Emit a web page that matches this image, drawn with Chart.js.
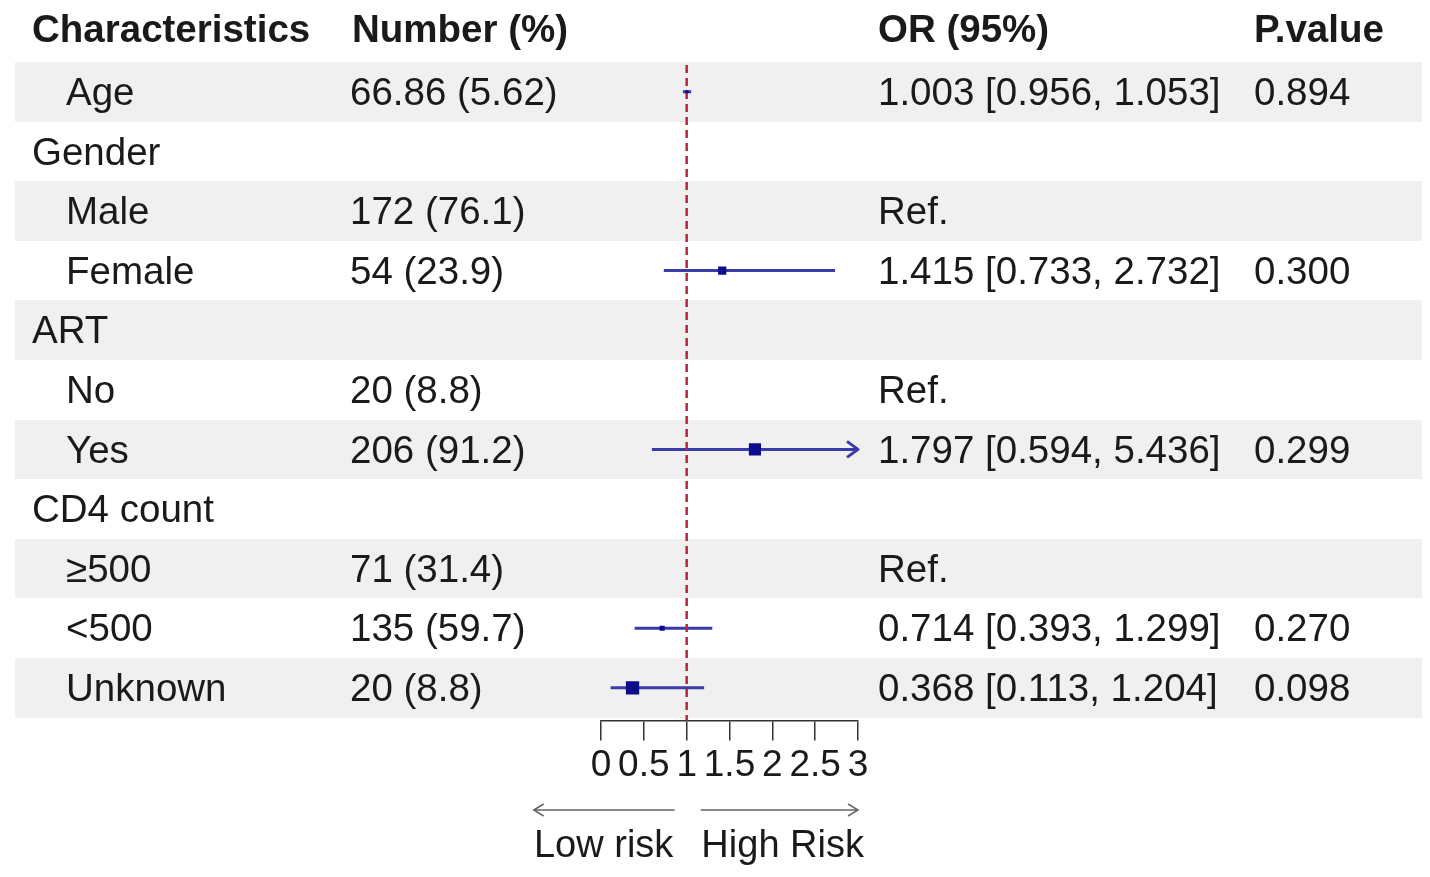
<!DOCTYPE html>
<html>
<head>
<meta charset="utf-8">
<script src="https://cdn.jsdelivr.net/npm/chart.js@4/dist/chart.umd.min.js"></script>
<style>
  html, body { margin: 0; padding: 0; background: #ffffff; }
  #wrap { width: 1430px; height: 877px; }
</style>
</head>
<body>
<div id="wrap"><canvas id="c" width="1430" height="877"></canvas></div>
<script>
// ---- data ----
const headers = ["Characteristics", "Number (%)", "OR (95%)", "P.value"];
const rowLabels = ["Age", "Gender", "Male", "Female", "ART", "No", "Yes", "CD4 count", "\u2265500", "<500", "Unknown"];
const rowIsGroup = [false, true, false, false, true, false, false, true, false, false, false];
const numbers = ["66.86 (5.62)", "", "172 (76.1)", "54 (23.9)", "", "20 (8.8)", "206 (91.2)", "", "71 (31.4)", "135 (59.7)", "20 (8.8)"];
const orEst = [1.003, null, null, 1.415, null, null, 1.797, null, null, 0.714, 0.368];
const orLow = [0.956, null, null, 0.733, null, null, 0.594, null, null, 0.393, 0.113];
const orHigh = [1.053, null, null, 2.732, null, null, 5.436, null, null, 1.299, 1.204];
const orText = ["1.003 [0.956, 1.053]", "", "Ref.", "1.415 [0.733, 2.732]", "", "Ref.", "1.797 [0.594, 5.436]", "", "Ref.", "0.714 [0.393, 1.299]", "0.368 [0.113, 1.204]"];
const pValues = ["0.894", "", "", "0.300", "", "", "0.299", "", "", "0.270", "0.098"];
const xTicks = [0, 0.5, 1, 1.5, 2, 2.5, 3];
const refValue = 1;
const arrowLabels = ["Low risk", "High Risk"];

// ---- styles ----
const FONT = "'Liberation Sans', Arial, Helvetica, sans-serif";
const TEXT = "#1a1a1a";
const BAND = "#f0f0f0";
const CI_COL = "#3a3aa8";
const PT_COL = "#0c0c8c";
const REF_COL = "#b5263a";
const markerRadius = [2.2, 0, 0, 5.8, 0, 0, 8.6, 0, 0, 3.6, 9.4];
const xMin = xTicks[0], xMax = xTicks[xTicks.length - 1];

const datasets = [];
// confidence intervals
rowLabels.forEach((lab, i) => {
  if (orEst[i] === null) return;
  datasets.push({
    type: 'scatter',
    label: 'ci-' + lab,
    data: [{x: Math.max(orLow[i], xMin), y: i}, {x: Math.min(orHigh[i], xMax), y: i}],
    showLine: true,
    borderColor: CI_COL,
    borderWidth: 3,
    pointRadius: 0,
    order: 2
  });
});
// reference line
datasets.push({
  type: 'scatter',
  label: 'ref',
  data: [{x: refValue, y: -0.45}, {x: refValue, y: 10.6}],
  showLine: true,
  borderColor: REF_COL,
  borderWidth: 2.5,
  borderDash: [8, 5],
  pointRadius: 0,
  order: 1
});
// point estimates
const ptData = [], ptRad = [];
rowLabels.forEach((lab, i) => {
  if (orEst[i] === null) return;
  ptData.push({x: orEst[i], y: i});
  ptRad.push(markerRadius[i]);
});
datasets.push({
  type: 'scatter',
  label: 'est',
  data: ptData,
  pointStyle: 'rect',
  pointRadius: ptRad,
  pointBackgroundColor: PT_COL,
  pointBorderWidth: 0,
  pointBorderColor: PT_COL,
  order: 0
});

const tablePlugin = {
  id: 'tablePlugin',
  beforeDraw(chart) {
    const {ctx, scales: {y}} = chart;
    ctx.save();
    ctx.fillStyle = '#ffffff';
    ctx.fillRect(0, 0, chart.width, chart.height);
    ctx.fillStyle = BAND;
    rowLabels.forEach((_, i) => {
      if (i % 2 === 0) {
        const t = y.getPixelForValue(i - 0.5);
        const b = y.getPixelForValue(i + 0.5);
        ctx.fillRect(15, Math.round(t), 1407, Math.round(b) - Math.round(t));
      }
    });
    ctx.restore();
  },
  afterDatasetsDraw(chart) {
    const {ctx, scales: {x, y}} = chart;
    ctx.save();
    // arrows for clipped CIs
    ctx.strokeStyle = CI_COL;
    ctx.lineWidth = 3;
    ctx.lineJoin = 'round';
    rowLabels.forEach((_, i) => {
      if (orHigh[i] !== null && orHigh[i] > xMax) {
        const px = x.getPixelForValue(xMax), py = y.getPixelForValue(i);
        ctx.beginPath();
        ctx.moveTo(px - 11, py - 8);
        ctx.lineTo(px, py);
        ctx.lineTo(px - 11, py + 8);
        ctx.stroke();
      }
    });
    ctx.restore();
  },
  afterDraw(chart) {
    const {ctx, scales: {x, y}} = chart;
    ctx.save();
    ctx.fillStyle = TEXT;
    ctx.textBaseline = 'middle';
    ctx.textAlign = 'left';
    const colX = [32, 352, 878, 1254];
    ctx.font = "bold 38.5px " + FONT;
    headers.forEach((h, k) => ctx.fillText(h, colX[k], 31));
    ctx.font = "38.5px " + FONT;
    rowLabels.forEach((lab, i) => {
      const py = y.getPixelForValue(i) + 2.5;
      ctx.fillText(lab, rowIsGroup[i] ? 32 : 66, py);
      if (numbers[i]) ctx.fillText(numbers[i], 350, py);
      if (orText[i]) ctx.fillText(orText[i], 878, py);
      if (pValues[i]) ctx.fillText(pValues[i], 1254, py);
    });
    // risk arrows
    const rx = x.getPixelForValue(refValue);
    const xr = x.getPixelForValue(xMax);
    const ay = 810;
    ctx.strokeStyle = '#666666';
    ctx.lineWidth = 1.5;
    ctx.beginPath();
    ctx.moveTo(rx - 12, ay); ctx.lineTo(rx - 153, ay);
    ctx.moveTo(rx - 143, ay - 6); ctx.lineTo(rx - 153, ay); ctx.lineTo(rx - 143, ay + 6);
    ctx.moveTo(rx + 14, ay); ctx.lineTo(xr, ay);
    ctx.moveTo(xr - 10, ay - 6); ctx.lineTo(xr, ay); ctx.lineTo(xr - 10, ay + 6);
    ctx.stroke();
    ctx.fillStyle = TEXT;
    ctx.textAlign = 'center';
    ctx.font = "38px " + FONT;
    ctx.fillText(arrowLabels[0], rx - 83, 847);
    ctx.fillText(arrowLabels[1], rx + 96, 847);
    ctx.restore();
  }
};

new Chart(document.getElementById('c'), {
  type: 'scatter',
  data: { datasets },
  options: {
    responsive: false,
    animation: false,
    events: [],
    layout: { padding: { left: 601, right: 572, top: 62, bottom: 86 } },
    plugins: { legend: { display: false }, tooltip: { enabled: false }, title: { display: false } },
    scales: {
      x: {
        type: 'linear',
        min: xMin,
        max: xMax,
        afterBuildTicks(scale) { scale.ticks = xTicks.map(v => ({value: v})); },
        ticks: {
          autoSkip: false,
          maxRotation: 0,
          padding: 3,
          color: TEXT,
          font: { family: FONT, size: 37 },
          callback: (v) => String(v)
        },
        grid: {
          display: true,
          drawOnChartArea: false,
          drawTicks: true,
          tickLength: 20,
          color: '#333333',
          lineWidth: 1.5
        },
        border: { display: true, color: '#333333', width: 1.5 }
      },
      y: {
        type: 'linear',
        display: false,
        reverse: true,
        min: -0.5,
        max: 10.55
      }
    }
  },
  plugins: [tablePlugin]
});
</script>
</body>
</html>
